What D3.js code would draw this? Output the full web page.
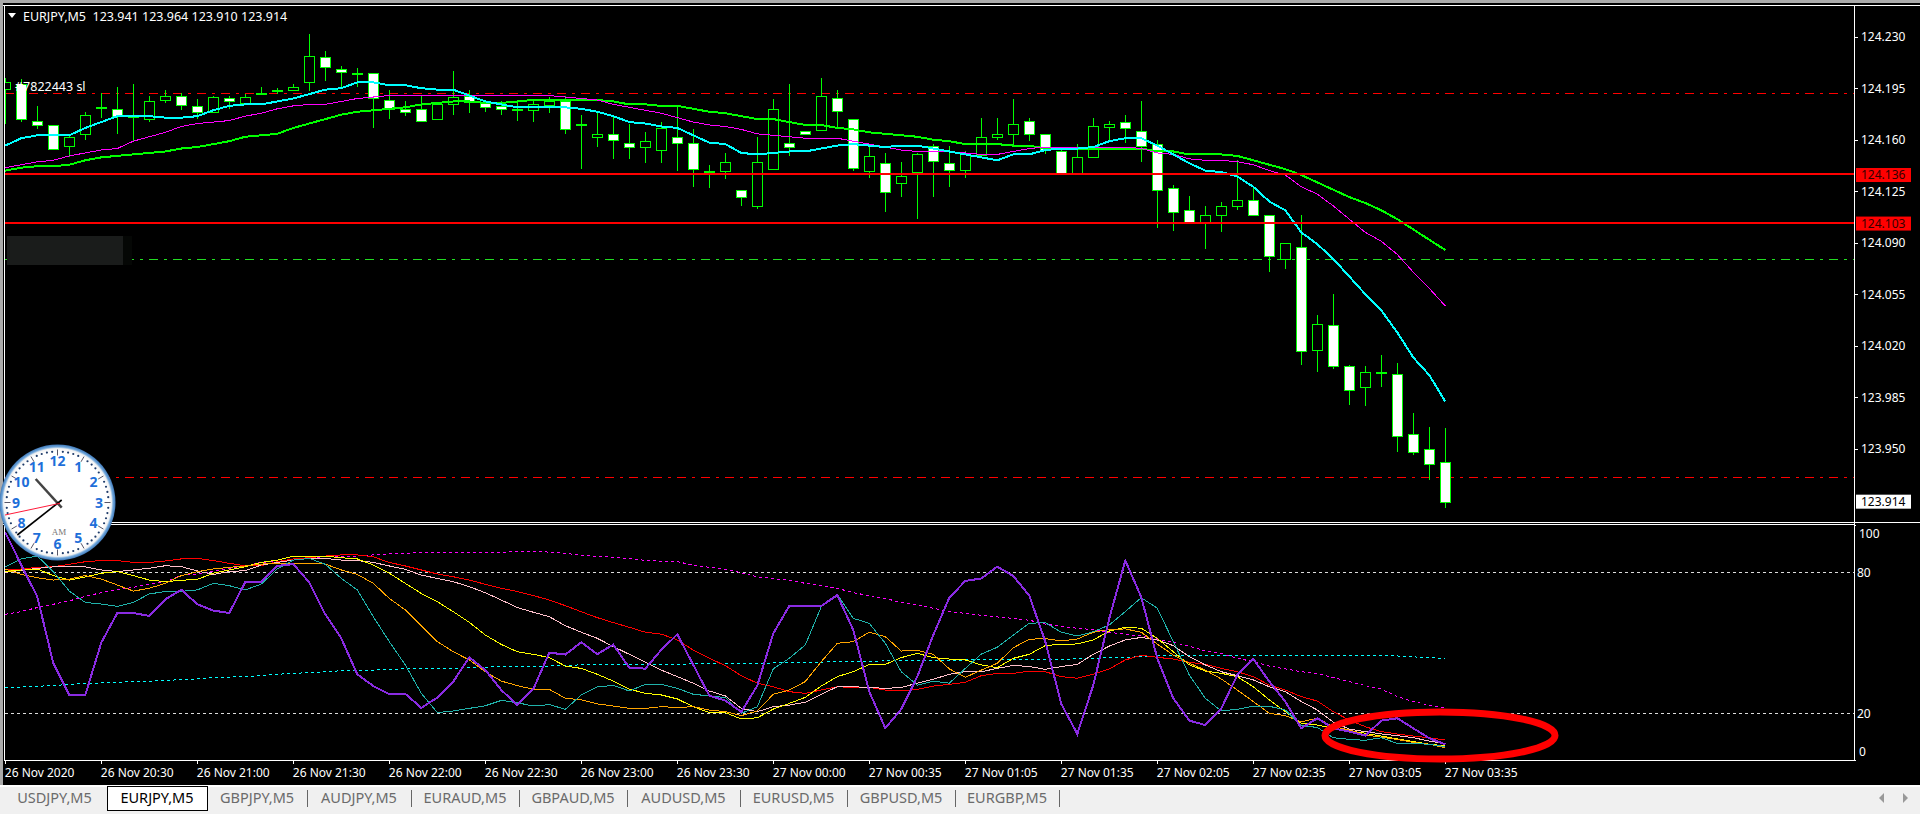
<!DOCTYPE html>
<html><head><meta charset="utf-8">
<script src="https://cdn.jsdelivr.net/npm/d3@7"></script>
<style>
html,body{margin:0;padding:0;background:#000;overflow:hidden}
svg{display:block}
text{font-family:"Noto Sans","Liberation Sans",sans-serif}
</style></head><body>
<svg id="c" width="1920" height="814"></svg>
<script>
const opens=[124.194,124.198,124.173,124.170,124.156,124.164,124.181,124.181,124.175,124.174,
124.187,124.190,124.183,124.179,124.188,124.185,124.191,124.193,124.194,124.199,
124.216,124.208,124.204,124.205,124.187,124.181,124.181,124.174,124.184,124.190,
124.185,124.183,124.180,124.180,124.183,124.186,124.170,124.162,124.164,124.158,
124.155,124.153,124.162,124.158,124.138,124.139,124.126,124.115,124.140,124.158,
124.166,124.167,124.188,124.174,124.139,124.144,124.130,124.138,124.156,124.144,
124.139,124.150,124.162,124.164,124.173,124.164,124.152,124.137,124.148,124.169,
124.172,124.166,124.157,124.127,124.112,124.104,124.109,124.115,124.119,124.109,
124.079,124.087,124.017,124.034,124.006,123.992,124.002,124.001,123.960,123.950,123.941];
const highs=[124.202,124.201,124.183,124.170,124.163,124.179,124.192,124.196,124.198,124.190,
124.194,124.192,124.188,124.190,124.190,124.191,124.196,124.195,124.198,124.232,
124.220,124.210,124.209,124.205,124.194,124.186,124.190,124.184,124.207,124.194,
124.185,124.186,124.187,124.186,124.189,124.190,124.177,124.179,124.176,124.171,
124.165,124.172,124.182,124.167,124.143,124.151,124.126,124.162,124.188,124.198,
124.166,124.202,124.194,124.174,124.156,124.151,124.145,124.151,124.157,124.156,
124.152,124.175,124.175,124.188,124.175,124.164,124.153,124.157,124.175,124.173,
124.177,124.186,124.160,124.129,124.122,124.115,124.118,124.146,124.128,124.109,
124.090,124.109,124.041,124.055,124.007,124.006,124.014,124.008,123.974,123.965,123.964];
const lows=[124.171,124.172,124.167,124.154,124.148,124.160,124.175,124.164,124.159,124.172,
124.185,124.180,124.174,124.179,124.181,124.185,124.191,124.191,124.193,124.193,
124.200,124.196,124.196,124.168,124.174,124.176,124.173,124.174,124.177,124.178,
124.179,124.177,124.173,124.172,124.178,124.164,124.140,124.155,124.147,124.147,
124.144,124.144,124.139,124.128,124.127,124.133,124.115,124.113,124.140,124.149,
124.164,124.167,124.168,124.139,124.134,124.111,124.121,124.106,124.121,124.128,
124.134,124.150,124.160,124.156,124.159,124.150,124.137,124.137,124.148,124.160,
124.158,124.145,124.100,124.098,124.103,124.086,124.097,124.112,124.109,124.070,
124.072,124.007,124.002,124.004,123.980,123.979,123.992,123.948,123.946,123.929,123.910];
const closes=[124.199,124.174,124.170,124.154,124.162,124.177,124.182,124.176,124.176,124.186,
124.190,124.184,124.179,124.189,124.186,124.189,124.192,124.194,124.196,124.217,
124.209,124.206,124.205,124.188,124.181,124.179,124.173,124.184,124.189,124.186,
124.182,124.181,124.181,124.184,124.186,124.167,124.171,124.164,124.160,124.155,
124.159,124.168,124.158,124.140,124.139,124.145,124.121,124.145,124.181,124.155,
124.164,124.190,124.179,124.141,124.149,124.124,124.135,124.150,124.146,124.139,
124.150,124.162,124.164,124.171,124.164,124.153,124.137,124.148,124.169,124.171,
124.168,124.156,124.126,124.111,124.103,124.109,124.115,124.119,124.109,124.081,
124.090,124.016,124.035,124.006,123.990,124.002,124.001,123.959,123.948,123.940,123.914];

const maFast=[124.156,124.161,124.163,124.163,124.163,124.168,124.172,124.176,124.176,124.176,
124.175,124.175,124.176,124.180,124.183,124.184,124.184,124.186,124.188,124.191,
124.194,124.195,124.199,124.199,124.197,124.197,124.195,124.194,124.194,124.190,
124.186,124.184,124.182,124.182,124.182,124.182,124.181,124.179,124.176,124.172,
124.171,124.169,124.168,124.163,124.158,124.157,124.151,124.150,124.151,124.152,
124.152,124.154,124.156,124.157,124.156,124.155,124.156,124.156,124.154,124.152,
124.150,124.148,124.146,124.150,124.150,124.153,124.154,124.154,124.155,124.159,
124.161,124.161,124.156,124.150,124.144,124.139,124.138,124.135,124.128,124.118,
124.112,124.097,124.089,124.079,124.067,124.055,124.044,124.029,124.012,124.000,123.982];
const maMid=[124.141,124.143,124.145,124.146,124.149,124.151,124.153,124.154,124.159,124.162,
124.165,124.169,124.171,124.172,124.173,124.176,124.178,124.181,124.183,124.184,
124.184,124.186,124.188,124.189,124.190,124.190,124.190,124.190,124.190,124.190,
124.190,124.190,124.190,124.190,124.190,124.189,124.188,124.187,124.184,124.182,
124.180,124.178,124.175,124.172,124.170,124.169,124.167,124.164,124.163,124.162,
124.161,124.161,124.161,124.159,124.157,124.155,124.153,124.152,124.152,124.152,
124.151,124.150,124.150,124.152,124.154,124.155,124.155,124.155,124.155,124.155,
124.155,124.154,124.151,124.150,124.147,124.146,124.146,124.145,124.143,124.139,
124.136,124.128,124.123,124.115,124.106,124.097,124.091,124.082,124.070,124.059,124.047];
const maSlow=[124.139,124.141,124.142,124.142,124.143,124.146,124.148,124.149,124.150,124.151,
124.152,124.154,124.155,124.157,124.159,124.162,124.163,124.164,124.168,124.171,
124.174,124.177,124.179,124.180,124.181,124.182,124.184,124.185,124.186,124.186,
124.185,124.185,124.186,124.187,124.187,124.187,124.187,124.187,124.186,124.184,
124.184,124.183,124.183,124.181,124.179,124.178,124.176,124.174,124.174,124.172,
124.170,124.170,124.168,124.167,124.165,124.164,124.163,124.162,124.160,124.159,
124.157,124.157,124.157,124.156,124.156,124.154,124.154,124.154,124.154,124.154,
124.154,124.154,124.152,124.152,124.150,124.150,124.150,124.149,124.146,124.143,
124.140,124.136,124.131,124.126,124.121,124.117,124.112,124.106,124.099,124.092,124.085];

const stochPurple=[97,83.1,69.6,41.3,27.8,27.8,50.1,62.7,62.7,61.4,
68.5,72.6,66.4,63.7,62.7,75.9,75.9,82.7,83.5,75.7,
62.1,51.9,36.6,31.6,28.2,28.3,22.3,26.7,33.5,43.8,
38.4,29.9,23.5,30.3,45.8,45,50.2,45.2,49.2,39.4,
39,47,53.6,40.6,27.5,25.4,20.6,31.8,54,65.7,
65.7,65.7,70.3,55.4,29.2,13.7,21.8,35.6,53.3,69.2,
76.3,77.4,82.4,78.4,70.1,50.5,24,11.2,32,60.4,
85,69.4,43.4,26.4,16.9,15,22.1,36.3,43.1,33.5,
25,13.6,17.9,13.6,12.2,10.5,16.9,17.9,13.6,9.4,6.8];
const stochTeal=[82.4,85.7,86.9,80.3,72,67.2,66.5,65.5,67.2,70.8,
71.8,71.9,72.5,75.3,74.3,72.5,75,81.4,85.2,85.9,
83.4,77.4,72.5,61.1,50.5,40.6,28.5,20.3,21,22.1,
23.2,25.5,24.5,23.1,23.7,21.7,27.8,31.2,31.9,29.5,
32.3,32.3,30.6,28.1,27.4,26.7,20,22.8,38.9,43.4,
49.1,65.4,70.6,60.4,58.3,49.8,37.7,32,33.7,32.8,
39.1,45.2,48.1,53.3,58.3,58.6,54.5,52.9,54.7,57.6,
63.3,69.2,64.7,50.5,36.3,26.4,21,21.7,23,23,
21.4,14.7,14,9.6,8.9,8.5,9.6,7.2,7.2,6.8,5.8];
const stochOrange=[81.4,79.1,77.7,76.7,77.1,78.6,77.1,74.6,72,73.2,
75.3,78.6,80.3,81.4,82.1,82.7,83.5,83.8,83.8,83.8,
83.5,81,79.1,75.3,68.9,64,57.3,50.5,46.2,42.7,
37.7,33.7,31.8,30.2,30.2,26.4,25.7,24,23.1,22.1,
22.1,22.8,22.5,22.8,21.4,20.7,19,21,28.1,29.9,
33.5,42,49.8,50.5,54.5,52.6,46.5,46.8,45.1,38.9,
35.3,38.4,41.3,47.9,51.5,51.8,50.8,51.6,54.5,55.7,
55.9,54.5,49.4,44.8,41.3,38.4,34.6,29.9,25,20,
19,16.4,17.9,14.3,12.9,10.8,9.8,8.9,7.6,6.8,5.4];
const stochYellow=[80.3,81,81.4,78.6,76.7,78,79.6,80.3,78.6,76.7,
76,76.6,77,79.6,81,82.4,84.2,85.2,86.9,86.9,
86.9,86.2,85.7,83.1,79.6,75.3,71,67.5,63.2,58.7,
53.3,49.3,46.2,45.1,43.7,40.1,39.1,36.6,33.7,30.3,
28.5,27.8,26.1,22.8,20.3,20.3,17.6,18.1,21.8,24.2,
26.8,31.6,35.6,37.7,40.8,40.8,43.7,45.5,43.7,43.1,
42.7,40.6,39.4,43.4,45.1,48.8,49.4,49.5,51.2,55,
56.6,56.2,51.9,46.2,40.6,38,37,35.6,31.3,25.7,
20.7,15.7,15,13.6,12.6,11.5,10.3,9.1,8,6.8,6.2];
const stochPink=[80,80.8,81.7,82.3,82.3,82.3,81,80.3,81,81.7,
82.8,82.4,80.6,79.1,80.3,80.7,83.1,84.2,85.2,85.9,
85.9,85.2,85,84.2,82.7,81.3,78.8,77.4,76,73.9,
71.3,68.2,65,63,61.1,57.3,54.5,51.9,48.4,45.1,
41.7,38.4,35.6,32.8,29.5,27.4,22.1,20.7,22.8,23.5,
24.7,28.1,31.3,31.3,31,30.6,31,32.8,34.5,36.6,
37.7,37.7,39.1,40.4,39.9,38.7,39.9,40.8,45.1,48.6,
51.2,52.3,51.2,48.8,44.1,40.6,37.7,36,34.2,31.3,
29.2,25,21.4,16.2,13.3,12.2,11.2,10.5,9.6,8.2,7.1];
const stochRed=[81.4,81.4,82.1,82.4,83.4,84.5,85,85,84.2,84.2,
84.8,85.7,85.9,85,83.8,82.8,82.8,84.5,85.7,86.2,
86.9,87.4,87.4,86.6,84.2,82.7,81,79.3,78.1,76.7,
74.9,73.2,71.8,70.1,68.2,65.8,63.2,60.7,58.6,56.6,
54.5,53.7,51.2,46.9,43.4,40.3,36,32.8,31.3,29.2,
28.5,29.9,31.3,31,31,29.9,29.5,30.2,31.6,32.3,
33.2,36,37,37,37.9,37.7,35.6,34.9,36.6,38.9,
42.7,44.7,43.8,43.1,41.7,40.8,39.1,37.7,35.6,32,
29.9,27.1,25.2,20.7,17.1,14.3,12.2,11.2,10.3,9.6,8.6];
const stochDotMagenta=[62.1,63.3,65,66.4,67.8,69.8,71.3,72.5,73.6,74.9,
76,78.6,79.3,80.3,81.7,82.8,84.2,84.8,85.7,86.2,
86.6,86.8,86.9,87.4,87.8,88.1,88.4,88.5,88.5,88.5,
88.5,88.5,88.8,88.9,88.6,88.1,87.2,86.8,86.4,85.8,
85.1,84.7,84.5,83.1,82.1,81.3,79.8,78.1,77.3,76.6,
75.3,74.3,73.2,71.3,70.1,68.9,67.1,66.1,64.7,63.3,
62.5,61.7,61,60.4,59.6,58,56.9,56.2,55.6,54.5,
53.6,52.9,51.6,50.2,48.6,46.5,45.4,43.4,42,40.1,
38.9,37.7,37,35.2,33.5,31.8,30.3,27.1,25,23.5,22.4];
const stochDotCyan=[31,31.2,31.5,31.8,32.3,32.8,32.9,33.2,33.5,33.6,
34,34.3,34.6,35.2,35.4,35.6,36,36.6,37,37.3,
37.7,38.1,38.3,38.4,38.7,38.9,39.1,39.1,39.1,39.4,
39.6,39.9,40,40,40.1,40.4,40.6,40.7,40.8,40.8,
40.8,40.8,40.8,41.1,41.1,41.1,41.3,41.4,41.4,41.5,
41.7,41.8,42,42,42.1,42.3,42.3,42.4,42.4,42.5,
42.7,42.7,42.7,42.8,43,43,43,43.2,43.4,43.7,
43.8,44.1,44.4,44.8,44.8,44.8,44.8,44.8,44.8,44.8,
44.8,44.8,44.8,44.8,44.8,44.8,44.5,44.4,44,43.7,43.4];

const priceTicks=[124.230,124.195,124.160,124.125,124.090,124.055,124.020,123.985,123.950];
const stochTicks=[100,80,20,0];
const timeIndex=[0,6,12,18,24,30,36,42,48,54,60,66,72,78,84,90];
const timeLabels=["26 Nov 2020","26 Nov 20:30","26 Nov 21:00","26 Nov 21:30","26 Nov 22:00","26 Nov 22:30","26 Nov 23:00","26 Nov 23:30","27 Nov 00:00","27 Nov 00:35","27 Nov 01:05","27 Nov 01:35","27 Nov 02:05","27 Nov 02:35","27 Nov 03:05","27 Nov 03:35"];
const tabLabels=["USDJPY,M5","EURJPY,M5","GBPJPY,M5","AUDJPY,M5","EURAUD,M5","GBPAUD,M5","AUDUSD,M5","EURUSD,M5","GBPUSD,M5","EURGBP,M5"];
const tabEdges=[2,107,207,307,411,519,627,740,847,955,1059];
const solidLevels=[124.136,124.103];
const redDashLevels=[124.192,123.931];
const greenDashLevels=[124.079];
const stochLevels=[80,20];
const title="EURJPY,M5  123.941 123.964 123.910 123.914";
const lastPrice=123.914;
const clockNumbers=[12,1,2,3,4,5,6,7,8,9,10,11];

const svg=d3.select("#c");
const W=1920,H=814,R=1854;
const x=d3.scaleLinear().domain([0,90]).range([5.3,1445.3]);
const y=d3.scaleLinear().domain([124.160,123.950]).range([139.7,448.7]);
const yS=d3.scaleLinear().domain([0,100]).range([760.3,525.3]);

svg.append("rect").attr("width",W).attr("height",H).attr("fill","#000");

const defs=svg.append("defs");
defs.append("clipPath").attr("id","mainClip").append("rect").attr("x",5).attr("y",6).attr("width",R-5).attr("height",516);
defs.append("clipPath").attr("id","subClip").append("rect").attr("x",5).attr("y",525).attr("width",R-5).attr("height",235);

// window chrome
svg.append("rect").attr("x",0).attr("y",0).attr("width",W).attr("height",3).attr("fill","#aaa");
svg.append("rect").attr("x",0).attr("y",0).attr("width",3).attr("height",785).attr("fill","#aaa");

const main=svg.append("g").attr("clip-path","url(#mainClip)");
// dashed price levels
const dashLine=(g,vals,col,sc,dash)=>g.selectAll(null).data(vals).enter().append("line")
  .attr("x1",5).attr("x2",R).attr("y1",d=>Math.round(sc(d))+.5).attr("y2",d=>Math.round(sc(d))+.5)
  .attr("stroke",col).attr("stroke-width",1).attr("stroke-dasharray",dash).attr("shape-rendering","crispEdges");
dashLine(main,redDashLevels,"#ff0000",y,"9,6,3,6");
dashLine(main,greenDashLevels,"#22dd22",y,"9,6,3,6");

// hidden label patch
main.append("rect").attr("x",7).attr("y",236).attr("width",116).attr("height",29).attr("fill","#1a1c1b");
main.append("rect").attr("x",123).attr("y",236).attr("width",9).attr("height",29).attr("fill","#050705");

// candles
const idx=d3.range(opens.length);
main.append("g").selectAll("line").data(idx).enter().append("line")
  .attr("x1",i=>Math.round(x(i))+.5).attr("x2",i=>Math.round(x(i))+.5)
  .attr("y1",i=>y(highs[i])).attr("y2",i=>y(lows[i]))
  .attr("stroke","#00ff00").attr("shape-rendering","crispEdges");
main.append("g").selectAll("rect").data(idx).enter().append("rect")
  .attr("x",i=>Math.round(x(i))-4.5).attr("width",10)
  .attr("y",i=>Math.round(y(Math.max(opens[i],closes[i])))+.5)
  .attr("height",i=>Math.max(1,Math.round(Math.abs(y(opens[i])-y(closes[i])))))
  .attr("fill",i=>closes[i]<opens[i]?"#fff":"#000")
  .attr("stroke","#00ff00").attr("shape-rendering","crispEdges");

// moving averages
const line=(sc)=>d3.line().x((d,i)=>x(i)).y(d=>sc(d));
main.append("path").attr("d",line(y)(maSlow)).attr("fill","none").attr("stroke","#00ff00").attr("stroke-width",2).attr("shape-rendering","crispEdges");
main.append("path").attr("d",line(y)(maMid)).attr("fill","none").attr("stroke","#ff00ff").attr("stroke-width",1).attr("shape-rendering","crispEdges");
main.append("path").attr("d",line(y)(maFast)).attr("fill","none").attr("stroke","#00ffff").attr("stroke-width",2).attr("shape-rendering","crispEdges");

// solid levels
main.selectAll(null).data(solidLevels).enter().append("line")
  .attr("x1",5).attr("x2",R).attr("y1",d=>Math.round(y(d))-1).attr("y2",d=>Math.round(y(d))-1)
  .attr("stroke","#ff0000").attr("stroke-width",2).attr("shape-rendering","crispEdges");

// frames
const frame=svg.append("g").attr("stroke","#fff").attr("shape-rendering","crispEdges");
frame.append("line").attr("x1",4.5).attr("x2",4.5).attr("y1",5).attr("y2",761);
frame.append("line").attr("x1",3).attr("x2",W).attr("y1",5.5).attr("y2",5.5);
frame.append("line").attr("x1",R+.5).attr("x2",R+.5).attr("y1",5).attr("y2",761);
frame.append("line").attr("x1",3).attr("x2",W).attr("y1",522.5).attr("y2",522.5);
frame.append("line").attr("x1",3).attr("x2",R).attr("y1",524.5).attr("y2",524.5);

// right price axis
const axisP=d3.axisRight(y).tickValues(priceTicks).tickFormat(d3.format(".3f")).tickSize(4).tickPadding(3);
const gP=svg.append("g").attr("transform",`translate(${R},0)`).call(axisP);
gP.select(".domain").remove();
gP.selectAll("line").attr("stroke","#fff").attr("shape-rendering","crispEdges");
gP.selectAll("text").attr("fill","#fff").attr("font-size",12).style("font-family",'"Noto Sans",sans-serif');

// price tags
const tag=(v,bg,fg)=>{
  const c=y(v);
  svg.append("rect").attr("x",1856).attr("y",c-7).attr("width",55).attr("height",14).attr("fill",bg);
  svg.append("text").attr("x",1861).attr("y",c).attr("dy","0.34em").attr("font-size",12).attr("fill",fg).text(d3.format(".3f")(v));
};
solidLevels.forEach(v=>tag(v,"#ff0000","#300"));
tag(lastPrice,"#fff","#000");

// title and order label
svg.append("path").attr("d","M8 13 L16 13 L12 18 Z").attr("fill","#fff");
svg.append("text").attr("x",23).attr("y",16).attr("dy","0.36em").attr("font-size",12.5).attr("fill","#fff").style("white-space","pre").text(title);
svg.append("text").attr("x",15).attr("y",86).attr("dy","0.36em").attr("font-size",12.5).attr("fill","#fff").text("#7822443 sl");

// stochastic panel
const sub=svg.append("g").attr("clip-path","url(#subClip)");
sub.selectAll(null).data(stochLevels).enter().append("line")
  .attr("x1",5).attr("x2",R).attr("y1",d=>Math.round(yS(d))+.5).attr("y2",d=>Math.round(yS(d))+.5)
  .attr("stroke","#dcdcdc").attr("stroke-dasharray","3,3").attr("shape-rendering","crispEdges");
const series=[
 [stochDotCyan,"#00ffff",1,"3,3"],
 [stochDotMagenta,"#ff00ff",1,"3,3"],
 [stochRed,"#ff0000",1,null],
 [stochPink,"#ffc0cb",1,null],
 [stochYellow,"#ffff00",1,null],
 [stochOrange,"#ffa500",1,null],
 [stochTeal,"#20b2aa",1,null],
 [stochPurple,"#8a2be2",2,null]];
series.forEach(([vals,col,w,dash])=>{
  const p=sub.append("path").attr("d",line(yS)(vals)).attr("fill","none").attr("stroke",col).attr("stroke-width",w).attr("shape-rendering","crispEdges");
  if(dash)p.attr("stroke-dasharray",dash);
});

// stochastic axis
const axisS=d3.axisRight(yS).tickValues([100,0]).tickFormat("").tickSize(2);
const gS=svg.append("g").attr("transform",`translate(${R},0)`).call(axisS);
gS.select(".domain").remove();
gS.selectAll("line").attr("stroke","#fff").attr("shape-rendering","crispEdges");
const sLabelY={100:534,80:572.3,20:713.3,0:752};
svg.selectAll(null).data(stochTicks).enter().append("text")
  .attr("x",d=>(d===100||d===0)?1859:1857).attr("y",d=>sLabelY[d]).attr("dy","0.36em")
  .attr("font-size",12).attr("fill","#fff").text(d=>d);

// time axis
const axisT=d3.axisBottom(x).tickValues(timeIndex).tickFormat((d,i)=>timeLabels[i]).tickSize(4).tickPadding(4);
const gT=svg.append("g").attr("transform","translate(0,760)").call(axisT);
gT.select(".domain").remove();
svg.append("line").attr("x1",5).attr("x2",R).attr("y1",760.5).attr("y2",760.5).attr("stroke","#fff").attr("shape-rendering","crispEdges");
gT.selectAll("line").attr("stroke","#fff").attr("shape-rendering","crispEdges");
gT.selectAll("text").attr("fill","#fff").attr("font-size",12).attr("text-anchor","start").attr("dx",-1).style("font-family",'"Noto Sans",sans-serif');

// annotation ellipse
svg.append("ellipse").attr("cx",1440).attr("cy",735.5).attr("rx",115).attr("ry",23.5).attr("fill","none").attr("stroke","#ff0000").attr("stroke-width",7);

// tab bar
svg.append("rect").attr("x",0).attr("y",785).attr("width",W).attr("height",29).attr("fill","#f0f0f0");
svg.append("rect").attr("x",0).attr("y",785).attr("width",W).attr("height",2).attr("fill","#fff");
const active=1;
tabLabels.forEach((t,i)=>{
  const a=tabEdges[i],b=tabEdges[i+1];
  if(i===active){
    svg.append("rect").attr("x",a+.5).attr("y",786.5).attr("width",b-a).attr("height",24).attr("fill","#fff").attr("stroke","#000").attr("shape-rendering","crispEdges");
  } else if(i!==active-1){
    svg.append("line").attr("x1",b+.5).attr("x2",b+.5).attr("y1",790).attr("y2",807).attr("stroke","#666").attr("shape-rendering","crispEdges");
  }
  svg.append("text").attr("x",(a+b)/2).attr("y",798).attr("dy","0.36em").attr("text-anchor","middle").attr("font-size",14.5).attr("fill",i===active?"#000":"#6b6b6b").text(t);
});
svg.append("path").attr("d","M1884 793 L1884 803 L1879 798 Z").attr("fill","#999");
svg.append("path").attr("d","M1903 793 L1903 803 L1908 798 Z").attr("fill","#999");

// clock
const cx=57.5,cy=502.5;
const clock=svg.append("g");
const grad=defs.append("radialGradient").attr("id","rim");
grad.append("stop").attr("offset","88%").attr("stop-color","#ffffff");
grad.append("stop").attr("offset","93%").attr("stop-color","#f2f2f2");
grad.append("stop").attr("offset","96%").attr("stop-color","#6fa6da");
grad.append("stop").attr("offset","100%").attr("stop-color","#3f78b8");
clock.append("circle").attr("cx",cx).attr("cy",cy).attr("r",58).attr("fill","url(#rim)");
const angles=d3.range(60).map(d=>d*6*Math.PI/180);
clock.selectAll("circle.t").data(angles.filter((a,i)=>i%5!==0)).enter().append("circle").attr("class","t")
  .attr("cx",a=>cx+51*Math.sin(a)).attr("cy",a=>cy-51*Math.cos(a)).attr("r",1.1).attr("fill","#1f3c6a");
clock.selectAll("line.t").data(angles.filter((a,i)=>i%5===0)).enter().append("line").attr("class","t")
  .attr("x1",a=>cx+47*Math.sin(a)).attr("y1",a=>cy-47*Math.cos(a))
  .attr("x2",a=>cx+53*Math.sin(a)).attr("y2",a=>cy-53*Math.cos(a)).attr("stroke","#556").attr("stroke-width",1);
clock.selectAll("text.n").data(clockNumbers).enter().append("text").attr("class","n")
  .attr("x",(d,i)=>cx+41.5*Math.sin(i*30*Math.PI/180)).attr("y",(d,i)=>cy-41.5*Math.cos(i*30*Math.PI/180)).attr("dy","0.36em")
  .attr("text-anchor","middle").attr("font-size",14).attr("font-weight","bold").attr("fill","#1e6fd9").text(d=>d);
clock.append("text").attr("x",59).attr("y",532).attr("dy","0.36em").attr("text-anchor","middle").attr("font-size",9).attr("fill","#777").style("font-family",'"Liberation Serif",serif').text("AM");
clock.append("line").attr("x1",35.7).attr("y1",479).attr("x2",61.7).attr("y2",507.7).attr("stroke","#444").attr("stroke-width",2.5);
clock.append("line").attr("x1",17.3).attr("y1",535).attr("x2",61.7).attr("y2",500).attr("stroke","#000").attr("stroke-width",1.6);
clock.append("line").attr("x1",5).attr("y1",515).attr("x2",60).attr("y2",503.3).attr("stroke","#ff1a3a").attr("stroke-width",1);
</script></body></html>
